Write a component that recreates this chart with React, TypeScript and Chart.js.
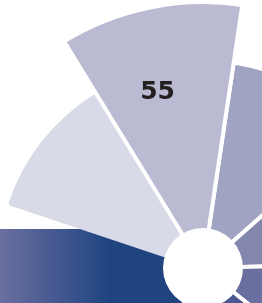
import React, { useEffect, useRef } from "react";
import { Chart, registerables } from "chart.js";

Chart.register(...registerables);

// ---- data ----
const categories = ["A", "B", "C", "D", "E", "F", "G", "H", "I"];
const values = [43, 38, 32, 26, 20, 0, 0, 42, 55];
const fillColors = [
  "#a0a3c2",
  "#8387ae",
  "#6b6fa0",
  "#4c5690",
  "#354a88",
  "#1f4480",
  "#1f4480",
  "#d8dae8",
  "#babbd3",
];
const edgeColors = [
  "#ffffff",
  "#ffffff",
  "#ffffff",
  "#ffffff",
  "#ffffff",
  "#ffffff",
  "#ffffff",
  "#d8dae8",
  "#ffffff",
];

// ---- layout / style constants ----
const VIEW_W = 262;
const VIEW_H = 303;
const SIZE = 700;
const CX = 203;
const CY = 268;
const HOLE = 40;
const SCALE_MAX = 72.4;
const START_ANGLE = 8.5;
const LABEL_ANGLE_FRAC = 0.43;
const LABEL_RADIUS_FRAC = 0.692;
const LABEL_SIZE = 25;

const decor = {
  id: "decor",
  beforeDatasetsDraw(chart: any) {
    const r = chart.scales.r;
    const ctx = chart.ctx as CanvasRenderingContext2D;
    const cx = r.xCenter;
    const cy = r.yCenter;
    const bandLeft = cx - CX;
    const top = cy - HOLE + 1;
    const g = ctx.createLinearGradient(bandLeft, 0, bandLeft + 110, 0);
    g.addColorStop(0, "#6b6fa0");
    g.addColorStop(1, "#1f4480");
    ctx.save();
    ctx.fillStyle = g;
    ctx.fillRect(0, top, cx, chart.height - top);
    ctx.restore();
  },
  afterDatasetsDraw(chart: any) {
    const r = chart.scales.r;
    const ctx = chart.ctx as CanvasRenderingContext2D;
    const cx = r.xCenter;
    const cy = r.yCenter;
    ctx.save();
    ctx.fillStyle = "#ffffff";
    ctx.beginPath();
    ctx.arc(cx, cy, HOLE, 0, Math.PI * 2);
    ctx.fill();

    const meta = chart.getDatasetMeta(0);
    let best = 0;
    values.forEach((v, i) => {
      if (v > values[best]) best = i;
    });
    const arc = meta.data[best] as any;
    const p = arc.getProps(["startAngle", "endAngle", "outerRadius"], true);
    const ang = p.startAngle + (p.endAngle - p.startAngle) * LABEL_ANGLE_FRAC;
    const d = p.outerRadius * LABEL_RADIUS_FRAC;
    ctx.font = `bold ${LABEL_SIZE}px 'DejaVu Sans'`;
    ctx.fillStyle = "#231f20";
    ctx.textAlign = "center";
    ctx.textBaseline = "alphabetic";
    const capHalf = LABEL_SIZE * 0.729 * 0.5;
    ctx.fillText(String(values[best]), cx + Math.cos(ang) * d, cy + Math.sin(ang) * d + capHalf);
    ctx.restore();
  },
};

export default function App() {
  const ref = useRef<HTMLCanvasElement | null>(null);

  useEffect(() => {
    if (!ref.current) return;
    const chart = new Chart(ref.current, {
      type: "polarArea",
      data: {
        labels: categories,
        datasets: [
          {
            data: values,
            backgroundColor: fillColors,
            borderColor: edgeColors,
            borderWidth: 4,
          },
        ],
      },
      options: {
        responsive: false,
        animation: false,
        devicePixelRatio: 1,
        layout: { padding: 0 },
        plugins: {
          legend: { display: false },
          tooltip: { enabled: false },
        },
        scales: {
          r: {
            display: false,
            min: 0,
            max: SCALE_MAX,
            startAngle: START_ANGLE,
          },
        },
      } as any,
      plugins: [decor],
    });
    return () => chart.destroy();
  }, []);

  return (
    <div
      style={{
        position: "fixed",
        left: 0,
        top: 0,
        width: VIEW_W,
        height: VIEW_H,
        overflow: "hidden",
        background: "#ffffff",
      }}
    >
      <canvas
        ref={ref}
        width={SIZE}
        height={SIZE}
        style={{
          position: "absolute",
          left: CX - SIZE / 2,
          top: CY - SIZE / 2,
          width: SIZE,
          height: SIZE,
        }}
      />
    </div>
  );
}
